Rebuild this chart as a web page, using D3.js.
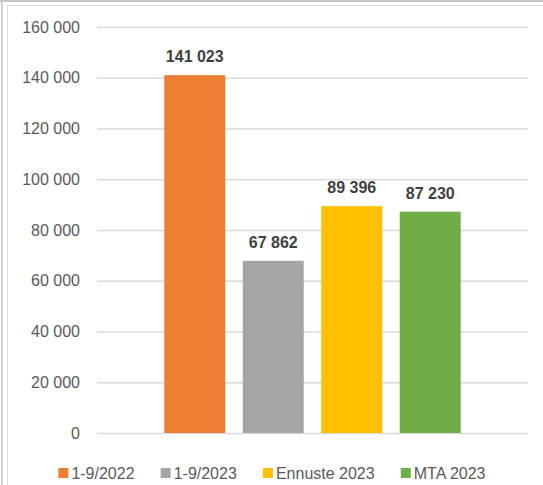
<!DOCTYPE html>
<html>
<head>
<meta charset="utf-8">
<script src="https://cdn.jsdelivr.net/npm/d3@7"></script>
<style>
  body { margin: 0; background: #fff; }
  svg { display: block; font-family: "Liberation Sans", Arial, sans-serif; }
</style>
</head>
<body>
<div class="chart"></div>
<script>
// data
var seriesNames = ["1-9/2022", "1-9/2023", "Ennuste 2023", "MTA 2023"];
var seriesValues = [141023, 67862, 89396, 87230];
var seriesColors = ["#ED7D31", "#A5A5A5", "#FFC000", "#70AD47"];
var yTicks = [0, 20000, 40000, 60000, 80000, 100000, 120000, 140000, 160000];

var width = 543, height = 485;

var loc = d3.formatLocale({ decimal: ",", thousands: " ", grouping: [3], currency: ["", ""] });
var fmt = loc.format(",d");

var canvas = d3.select(".chart").append("svg")
    .attr("width", width)
    .attr("height", height);

// outer frame lines
canvas.append("line")
    .attr("x1", 0).attr("x2", width).attr("y1", 1).attr("y2", 1)
    .attr("stroke", "#c6c6c6").attr("stroke-width", 2);
canvas.append("line")
    .attr("x1", 2).attr("x2", 2).attr("y1", 0).attr("y2", height)
    .attr("stroke", "#d0d0d0").attr("stroke-width", 2);
canvas.append("rect")
    .attr("x", 7.5).attr("y", 5.5)
    .attr("width", width + 10).attr("height", height + 10)
    .attr("fill", "none").attr("stroke", "#dcdcdc");

var x = d3.scaleBand()
    .domain(seriesNames)
    .range([97, 528])
    .paddingInner(0.223)
    .paddingOuter(0.857);

var y = d3.scaleLinear()
    .domain([0, 160000])
    .range([433, 27]);

// gridlines + tick labels
var yAxis = d3.axisLeft(y)
    .tickValues(yTicks)
    .tickSize(-(528 - 97))
    .tickPadding(17)
    .tickFormat(fmt);

var g = canvas.append("g")
    .attr("transform", "translate(97,0)")
    .call(yAxis);
g.select(".domain").remove();
g.selectAll(".tick line")
    .attr("stroke", "#d9d9d9")
    .attr("stroke-width", 1.3);
g.selectAll(".tick text")
    .attr("fill", "#595959")
    .style("font-size", "16px")
    .style("font-family", "Liberation Sans, Arial, sans-serif");

// bars
canvas.selectAll("rect.bar")
    .data(seriesValues)
    .enter()
        .append("rect")
        .attr("class", "bar")
        .attr("x", function (d, i) { return x(seriesNames[i]); })
        .attr("width", x.bandwidth())
        .attr("y", function (d) { return y(d); })
        .attr("height", function (d) { return y(0) - y(d); })
        .attr("fill", function (d, i) { return seriesColors[i]; });

// value labels
canvas.selectAll("text.val")
    .data(seriesValues)
    .enter()
        .append("text")
        .attr("class", "val")
        .attr("x", function (d, i) { return x(seriesNames[i]) + x.bandwidth() / 2; })
        .attr("y", function (d) { return y(d) - 13; })
        .attr("text-anchor", "middle")
        .attr("fill", "#404040")
        .style("font-size", "16px")
        .style("font-weight", "bold")
        .text(function (d) { return fmt(d); });

// legend
var legend = canvas.append("g");
var items = legend.selectAll("g")
    .data(seriesNames)
    .enter()
        .append("g");
items.append("rect")
    .attr("width", 10).attr("height", 10)
    .attr("y", 468)
    .attr("fill", function (d, i) { return seriesColors[i]; });
items.append("text")
    .attr("x", 13)
    .attr("y", 479)
    .attr("fill", "#595959")
    .style("font-size", "16px")
    .text(function (d) { return d; });

var pos = 0, offsets = [];
items.each(function () {
    offsets.push(pos);
    pos += this.getBBox().width + 26;
});
var total = pos - 26;
var start = 272 - total / 2;
items.attr("transform", function (d, i) { return "translate(" + (start + offsets[i]) + ",0)"; });
</script>
</body>
</html>
